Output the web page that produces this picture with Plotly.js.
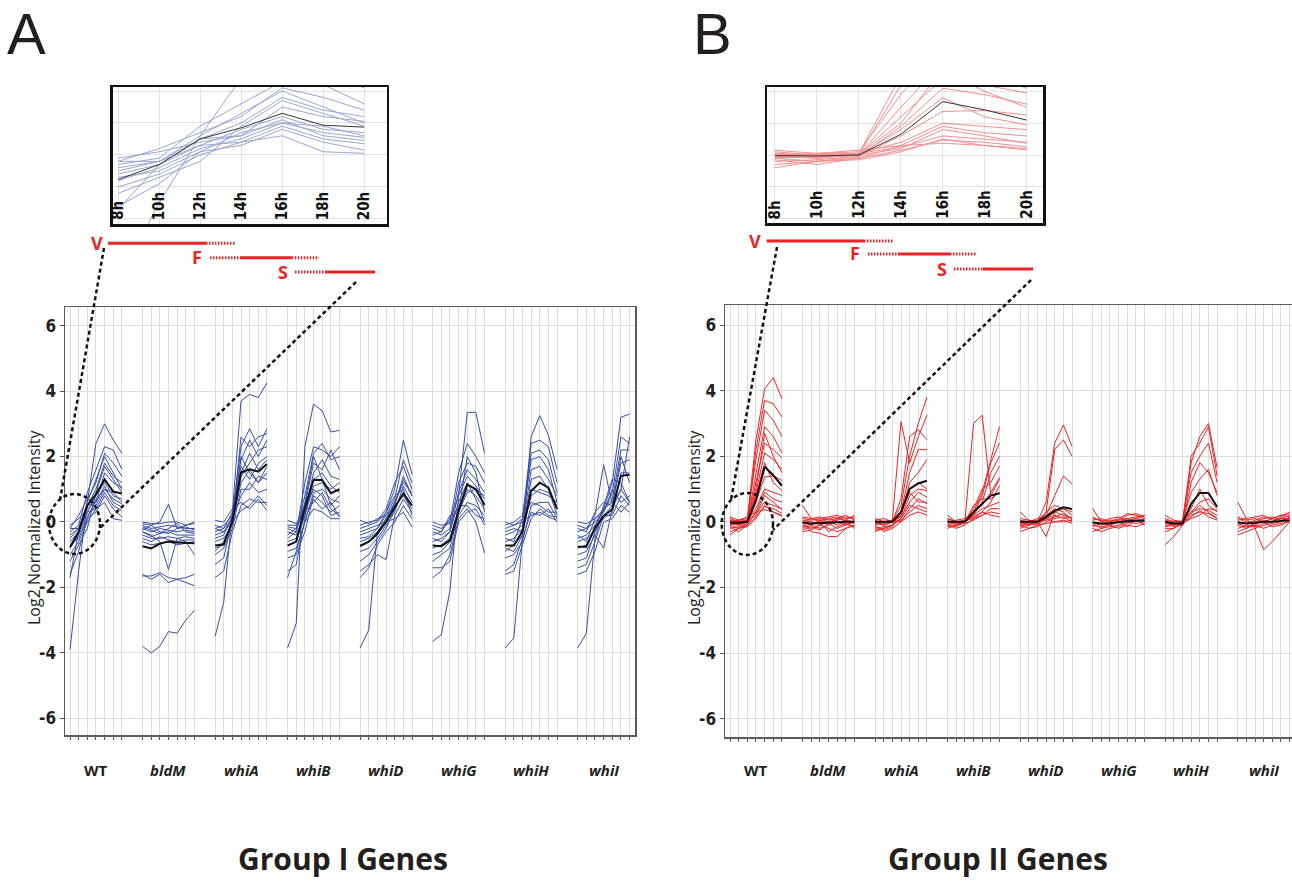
<!DOCTYPE html>
<html><head><meta charset="utf-8">
<script src="https://cdn.plot.ly/plotly-3.0.1.min.js"></script>
<style>html,body{margin:0;padding:0;background:#fff;}#chart{width:1292px;height:881px;}</style>
</head><body><div id="chart"></div>
<script>
// ---------------- data ----------------
const strains = ['WT','bldM','whiA','whiB','whiD','whiG','whiH','whiI'];
const timeLabels = ['8h','10h','12h','14h','16h','18h','20h'];
const yTicks = [-6,-4,-2,0,2,4,6];
const groupTitles = ['Group I Genes','Group II Genes'];
const panelLetters = ['A','B'];

// Group I (blue) — one row per gene, 7 time points
const g1WT = [
 [-3.9,-1.5,0.6,2.4,3.0,2.5,2.1],[-0.3,-0.1,0.9,1.6,2.3,2.2,1.6],[-0.2,0.2,0.7,1.2,2.1,1.8,1.4],
 [-0.5,-0.2,0.5,1.0,1.8,1.4,1.2],[-0.1,0.1,0.4,0.6,1.5,1.2,1.05],[-0.6,-0.3,0.3,0.8,1.2,0.8,0.7],
 [-0.8,-0.4,0.2,0.5,1.0,0.7,0.55],[-1.0,-0.6,0.0,0.4,0.9,0.5,0.35],[-1.6,-0.9,0.1,0.3,0.8,0.4,0.15],
 [-0.4,-0.2,0.3,0.4,0.6,0.1,0.05],[-1.2,-0.7,-0.2,0.9,1.7,1.3,0.9],[-0.7,-0.5,0.1,0.7,1.0,0.9,0.6],
 [-1.7,-0.3,0.5,0.6,1.1,0.6,0.45],[-0.2,-0.2,0.6,1.3,2.0,1.5,1.0]];
const g1bldM = [
 [-3.8,-4.0,-3.8,-3.35,-3.4,-3.0,-2.7],[-1.65,-1.65,-1.55,-1.7,-1.75,-1.7,-1.6],[-1.6,-1.75,-1.6,-1.85,-1.75,-1.85,-1.95],
 [-0.3,-0.4,-0.6,-1.45,-0.5,-0.6,-1.0],[-0.05,-0.1,0.0,0.54,-0.2,-0.1,-0.05],[0.0,-0.05,-0.05,0.0,0.0,-0.1,0.0],
 [-0.1,-0.2,-0.15,-0.1,-0.15,-0.2,-0.2],[-0.2,-0.3,-0.2,-0.25,-0.3,-0.25,-0.3],[-0.3,-0.45,-0.35,-0.3,-0.4,-0.4,-0.4],
 [-0.4,-0.5,-0.5,-0.45,-0.5,-0.45,-0.5],[-0.5,-0.6,-0.45,-0.55,-0.6,-0.55,-0.55],[-0.15,-0.25,-0.35,-0.2,-0.05,-0.3,-0.35],
 [-0.6,-0.7,-0.65,-0.6,-0.7,-0.65,-0.6],[-0.25,-0.1,-0.3,-0.35,-0.2,-0.15,-0.25]];
const g1whiA = [
 [-3.5,-2.45,0.3,3.7,3.9,3.8,4.25],[-0.2,-0.1,0.2,2.3,2.85,2.3,2.85],[-0.4,-0.3,0.0,2.6,2.3,2.6,2.7],
 [-0.1,-0.2,0.3,1.9,2.5,2.0,2.5],[-0.6,-0.5,-0.1,1.4,1.8,2.2,2.3],[-0.3,-0.2,0.1,1.7,1.3,1.8,2.0],
 [-0.8,-0.7,0.0,1.2,1.6,1.2,1.5],[-1.0,-0.8,-0.2,1.0,1.0,1.4,1.3],[-1.3,-1.1,0.1,0.8,1.2,0.9,1.0],
 [-1.7,-1.5,-0.3,0.5,0.7,0.6,0.6],[0.05,0.0,0.4,0.6,0.4,0.7,0.35],[-0.5,-0.4,0.2,1.5,2.1,1.6,1.9],
 [-0.9,-0.6,0.0,0.35,0.5,0.8,0.5],[-0.2,-0.3,0.1,2.0,1.5,1.2,1.7]];
const g1whiB = [
 [-3.85,-3.1,2.3,3.6,3.4,2.75,2.8],[-0.2,-0.3,1.2,2.3,2.2,2.0,2.3],[-0.4,-0.2,0.8,2.1,2.4,1.9,2.0],
 [-0.1,-0.1,0.5,1.8,1.6,2.2,1.6],[-0.6,-0.5,0.3,1.5,1.9,1.4,1.3],[-0.3,-0.4,0.2,1.1,1.2,1.0,1.2],
 [-0.9,-0.8,0.0,0.9,1.0,0.7,0.6],[-1.1,-1.0,-0.3,0.8,0.6,0.3,0.5],[-1.5,-1.3,0.1,0.7,0.4,0.6,0.15],
 [-1.7,-0.9,0.0,0.4,0.3,0.1,0.1],[-0.15,-0.2,0.4,1.0,0.8,0.2,0.3],[-0.7,-0.6,0.2,1.3,1.5,1.1,0.9],
 [-0.5,-0.3,0.6,2.0,1.3,0.5,0.8],[0.05,-0.05,0.3,0.6,0.9,0.4,0.2]];
const g1whiD = [
 [-3.85,-3.3,-0.3,0.1,0.6,1.3,0.8],[-0.2,-0.1,0.0,0.3,1.0,2.5,1.45],[-0.4,-0.3,-0.2,0.2,0.7,1.9,1.2],
 [-0.1,0.0,0.05,0.4,1.2,1.7,1.0],[-0.6,-0.5,-0.3,0.1,0.5,1.4,0.8],[-0.9,-0.8,-0.5,-0.1,0.3,1.1,0.6],
 [-1.2,-1.0,-0.6,-0.2,0.4,0.9,0.5],[-1.5,-1.3,-1.0,-1.15,0.2,0.7,0.3],[-1.7,-1.4,-0.7,-0.3,0.0,0.5,0.1],
 [-0.3,-0.2,-0.1,0.0,0.1,0.3,-0.15],[-0.7,-0.6,-0.4,0.0,0.6,1.2,0.9],[0.05,-0.05,0.1,0.2,0.5,0.8,0.4],
 [-0.5,-0.45,-0.2,0.3,0.8,1.0,0.2]];
const g1whiG = [
 [-3.65,-3.45,-2.1,0.8,3.35,3.35,2.1],[-0.1,-0.2,0.0,1.5,2.4,2.0,1.5],[-0.3,-0.4,-0.2,1.2,1.8,1.7,1.2],
 [-0.5,-0.6,-0.3,0.9,1.6,1.3,0.9],[-0.2,-0.3,0.1,0.8,1.4,1.1,0.7],[-0.8,-0.7,-0.5,0.4,1.0,0.8,0.4],
 [-1.0,-0.9,-0.6,0.2,0.6,0.5,0.2],[-1.4,-1.4,-1.2,0.0,0.3,0.4,-0.1],[-1.7,-1.5,-1.0,0.1,0.4,0.0,-0.95],
 [0.0,-0.1,-0.05,0.5,0.5,0.2,0.1],[-0.6,-0.5,-0.3,0.6,1.2,0.7,0.0],[-0.4,-0.3,0.2,0.3,0.9,1.0,0.8],
 [-1.2,-1.0,-0.8,0.3,2.0,1.5,0.3]];
const g1whiH = [
 [-3.85,-3.55,-0.5,2.6,3.25,2.65,1.6],[-0.2,-0.1,0.1,2.4,2.5,2.3,1.2],[-0.4,-0.3,-0.1,2.1,2.2,1.9,0.9],
 [-0.1,0.0,0.2,1.9,2.0,1.6,0.6],[-0.6,-0.5,-0.2,1.6,1.7,1.3,0.8],[-0.8,-0.9,-0.4,1.3,1.4,1.0,0.2],
 [-1.1,-1.0,-0.6,0.5,0.6,0.6,0.1],[-1.5,-1.3,-0.5,0.3,0.2,0.4,0.0],[-1.6,-1.5,-0.7,0.1,0.4,0.2,0.15],
 [0.0,-0.1,0.0,0.2,0.3,0.15,0.05],[-0.3,-0.2,-0.3,0.8,1.0,0.9,0.5],[-0.5,-0.6,0.1,0.6,0.5,0.3,0.3],
 [-0.9,-0.7,-0.4,1.0,0.9,0.8,0.6]];
const g1whiI = [
 [-3.85,-3.4,-0.5,0.4,1.2,3.2,3.3],[-0.1,-0.2,0.2,1.75,0.55,1.0,2.6],[-0.3,-0.2,0.0,0.3,0.9,2.6,2.4],
 [-0.5,-0.4,-0.1,0.4,0.7,2.2,2.2],[-0.2,-0.3,0.3,0.6,0.5,1.8,1.9],[-0.8,-0.7,-0.2,0.1,0.3,1.5,1.5],
 [-1.0,-0.9,-0.4,-0.8,0.4,1.0,0.6],[-1.4,-1.3,-0.6,0.2,0.2,0.8,0.5],[-1.6,-1.5,-0.9,0.0,0.1,0.5,0.3],
 [0.0,-0.05,0.1,0.4,0.6,0.3,0.6],[-0.6,-0.5,-0.3,0.5,1.3,1.2,0.6],[-0.4,-0.6,0.1,0.3,1.0,0.6,0.8],
 [-1.2,-1.1,-0.3,0.2,0.5,2.0,1.2]];
const g1Mean = [
 [-0.77,-0.3,0.5,0.85,1.3,0.93,0.87],[-0.74,-0.81,-0.66,-0.6,-0.63,-0.65,-0.65],
 [-0.72,-0.68,0.03,1.51,1.61,1.54,1.77],[-0.72,-0.6,0.44,1.29,1.28,0.88,1.0],
 [-0.74,-0.6,-0.35,0.0,0.45,0.87,0.5],[-0.72,-0.74,-0.56,0.34,1.15,1.0,0.52],
 [-0.72,-0.72,-0.28,0.95,1.2,1.05,0.39],[-0.76,-0.76,-0.17,0.18,0.39,1.41,1.44]];

// Group II (red)
const g2WT = [
 [0.05,0.0,0.05,2.5,4.05,4.4,3.75],[-0.1,-0.05,0.0,2.2,3.7,3.6,3.2],[0.0,0.05,0.1,1.9,3.4,3.1,2.6],
 [-0.05,-0.1,0.0,1.5,2.9,2.6,2.1],[0.1,0.0,0.0,1.2,2.4,2.2,1.95],[-0.2,-0.15,-0.05,0.9,2.1,1.9,1.6],
 [-0.1,-0.2,-0.05,0.6,1.37,1.4,1.26],[0.0,-0.1,0.05,0.4,1.0,0.9,0.8],[-0.3,-0.2,-0.1,0.3,0.9,0.7,0.6],
 [0.05,-0.05,0.0,0.2,0.8,0.6,0.37],[-0.15,-0.3,-0.1,0.15,0.47,0.4,0.26],[0.15,0.05,0.15,0.3,0.37,0.3,0.16],
 [-0.4,-0.2,-0.15,0.1,0.5,0.3,0.2],[-0.05,0.0,0.0,0.8,1.8,1.2,0.95],[0.0,-0.1,0.0,1.0,2.7,2.0,1.5],
 [-0.1,0.05,0.05,0.25,0.6,0.5,0.4]];
const g2bldM = [
 [0.5,0.1,0.0,-0.05,0.1,0.05,0.0],[0.1,0.05,0.1,0.15,0.2,0.1,0.15],[-0.1,-0.2,-0.1,0.0,0.05,0.15,0.1],
 [0.0,-0.3,-0.35,-0.45,-0.45,-0.2,-0.1],[-0.2,-0.1,-0.2,-0.1,0.0,-0.05,-0.15],[0.05,0.0,-0.05,0.1,0.0,-0.1,0.05],
 [-0.3,-0.25,-0.1,-0.2,-0.3,-0.2,-0.1],[0.15,0.1,0.05,0.0,-0.1,0.05,0.2],[-0.05,0.1,0.15,0.05,0.1,0.2,0.05],
 [-0.15,-0.05,0.0,-0.3,-0.15,-0.05,-0.2],[0.0,-0.1,0.05,0.1,0.15,0.0,-0.05],[-0.25,-0.15,-0.25,-0.05,-0.2,-0.1,0.0]];
const g2whiA = [
 [0.0,-0.05,0.0,0.5,2.0,3.0,3.8],[-0.1,0.0,0.05,3.05,1.8,2.6,3.25],[0.05,-0.1,0.0,0.7,2.6,2.8,2.5],
 [-0.2,-0.15,-0.1,0.3,1.5,2.2,2.2],[0.0,0.0,0.0,0.2,1.2,1.5,1.9],[-0.3,-0.2,-0.1,0.1,0.8,1.0,0.95],
 [0.1,0.0,0.05,0.15,0.6,0.9,0.75],[-0.1,-0.3,-0.2,0.0,0.4,0.7,0.55],[0.0,-0.1,0.0,0.05,0.3,0.5,0.4],
 [-0.25,-0.2,-0.1,0.1,0.5,0.4,0.3],[0.05,0.1,0.0,0.3,0.9,0.6,0.6],[-0.05,-0.1,0.0,0.0,0.2,0.3,0.2],
 [-0.15,-0.25,-0.15,0.2,1.0,1.2,1.0]];
const g2whiB = [
 [0.1,0.0,0.0,3.0,3.25,0.8,1.3],[0.0,-0.05,0.0,0.3,0.9,1.9,2.9],[-0.1,0.0,0.0,0.2,0.8,1.8,2.4],
 [0.05,-0.1,0.05,0.2,0.6,1.5,2.0],[-0.2,-0.1,0.0,0.4,1.0,1.2,1.7],[0.0,0.05,0.1,0.3,0.5,0.9,1.35],
 [-0.1,-0.2,-0.1,0.1,0.3,0.6,1.1],[0.1,0.0,0.0,0.2,0.4,0.5,0.6],[-0.15,-0.1,-0.05,0.05,0.2,0.4,0.4],
 [0.0,0.0,0.05,0.1,0.2,0.3,0.25],[-0.05,-0.15,0.0,0.15,0.3,0.2,0.15],[0.2,0.0,0.0,0.5,0.7,0.7,0.9]];
const g2whiD = [
 [0.0,-0.05,0.0,0.6,2.4,2.95,2.3],[0.3,0.05,0.0,0.3,2.2,2.5,2.0],[-0.1,0.0,0.05,0.2,0.8,1.4,1.15],
 [0.0,-0.1,0.0,-0.45,0.3,0.4,0.2],[-0.2,-0.1,-0.05,0.1,0.3,0.2,0.1],[0.05,0.0,0.1,0.2,0.4,0.3,0.05],
 [-0.1,-0.2,-0.15,0.0,0.1,0.15,0.0],[0.1,0.05,0.0,0.1,0.2,0.1,0.15],[-0.3,-0.2,-0.1,-0.05,0.0,0.05,-0.05],
 [0.0,0.0,-0.05,0.3,0.5,0.4,0.3],[-0.05,-0.1,0.0,0.05,0.15,0.25,0.1],[-0.15,-0.05,-0.1,0.1,0.0,0.0,0.05]];
const g2whiG = [
 [0.4,0.0,-0.05,0.0,0.05,0.1,0.05],[0.1,0.05,0.0,0.1,0.25,0.2,0.1],[-0.1,-0.15,-0.1,0.0,0.1,0.15,0.2],
 [-0.3,-0.2,-0.15,-0.1,0.0,-0.05,0.0],[0.0,-0.1,0.05,0.05,0.2,0.25,0.15],[-0.2,-0.3,-0.2,-0.15,-0.05,0.05,-0.1],
 [0.05,0.1,0.0,0.05,0.1,0.0,0.1],[-0.15,-0.05,-0.1,-0.2,-0.1,-0.15,-0.05],[0.15,0.0,0.1,0.15,0.05,0.1,0.2],
 [-0.05,-0.2,-0.05,0.0,-0.15,0.05,0.05]];
const g2whiH = [
 [0.0,-0.05,0.0,1.8,2.6,3.0,1.65],[-0.1,-0.1,-0.05,2.0,2.4,2.9,1.4],[0.05,0.0,0.0,1.5,2.0,2.4,1.2],
 [-0.7,-0.45,-0.1,1.2,1.8,1.5,0.9],[-0.2,-0.2,0.0,0.9,1.3,1.6,0.8],[0.1,0.0,0.0,0.4,1.0,0.5,0.3],
 [-0.05,-0.1,0.0,0.3,0.4,0.35,0.2],[0.0,-0.15,-0.1,0.2,0.3,0.25,0.1],[-0.3,-0.2,-0.05,0.1,0.2,0.4,0.35],
 [0.2,0.05,0.0,0.25,0.5,0.3,0.1],[-0.15,-0.1,0.05,0.3,0.6,0.7,0.4],[-0.05,-0.05,0.0,0.15,0.35,0.15,0.05]];
const g2whiI = [
 [0.6,0.1,-0.2,-0.85,-0.6,-0.3,0.0],[0.0,-0.05,0.05,0.15,0.1,0.2,0.25],[-0.2,-0.1,-0.15,-0.05,0.0,0.1,0.1],
 [-0.4,-0.3,-0.2,-0.1,-0.05,0.0,0.15],[0.05,0.1,0.15,0.2,0.05,0.1,0.2],[-0.1,-0.2,-0.05,0.0,-0.15,-0.1,0.05],
 [0.1,0.0,0.0,0.1,0.15,0.05,0.1],[-0.05,-0.15,-0.1,0.05,0.0,0.15,0.3],[-0.3,-0.2,-0.1,-0.2,-0.1,-0.05,0.0],
 [0.15,0.05,0.1,0.0,0.1,0.2,0.15]];
const g2Mean = [
 [-0.02,-0.03,0.0,0.65,1.68,1.42,1.1],[-0.02,-0.05,-0.04,-0.02,0.0,0.0,0.0],
 [0.0,0.0,0.0,0.3,1.0,1.17,1.25],[0.0,0.0,0.0,0.3,0.55,0.8,0.87],
 [0.0,0.0,0.0,0.15,0.34,0.44,0.39],[-0.02,-0.05,-0.04,0.0,0.02,0.03,0.03],
 [0.0,-0.05,-0.05,0.55,0.88,0.88,0.46],[-0.02,-0.05,-0.03,0.0,0.0,0.02,0.05]];

const groupI = [g1WT,g1bldM,g1whiA,g1whiB,g1whiD,g1whiG,g1whiH,g1whiI];
const groupII = [g2WT,g2bldM,g2whiA,g2whiB,g2whiD,g2whiG,g2whiH,g2whiI];

// ---------------- build ----------------
const W = 1292, H = 881;
const px = v => v / W, py = v => 1 - v / H;
const GAP = 8.385; // spacing between strain blocks in time-step units
const BLUE = '#3a4ea6', RED = '#ec2326';

function flatten(groups, withOffset) {
  const x = [], y = [];
  groups.forEach((rows, g) => rows.forEach(r => {
    r.forEach((v, t) => { x.push((withOffset ? g * GAP : 0) + t); y.push(v); });
    x.push(null); y.push(null);
  }));
  return {x, y};
}
function meanFlat(means) {
  const x = [], y = [];
  means.forEach((r, g) => { r.forEach((v, t) => { x.push(g * GAP + t); y.push(v); }); x.push(null); y.push(null); });
  return {x, y};
}

const traces = [];
function addPanel(groups, means, color, xa, ya, xi, yi) {
  const f = flatten(groups, true);
  traces.push({type:'scatter', mode:'lines', x:f.x, y:f.y, xaxis:xa, yaxis:ya,
    line:{color:color, width:1}, hoverinfo:'skip', showlegend:false});
  const m = meanFlat(means);
  traces.push({type:'scatter', mode:'lines', x:m.x, y:m.y, xaxis:xa, yaxis:ya,
    line:{color:'#111', width:2}, hoverinfo:'skip', showlegend:false});
  // inset : WT block
  const fi = flatten([groups[0]], false);
  traces.push({type:'scatter', mode:'lines', x:fi.x, y:fi.y, xaxis:xi, yaxis:yi,
    line:{color:color, width:1}, opacity:0.5, hoverinfo:'skip', showlegend:false});
  traces.push({type:'scatter', mode:'lines', x:[0,1,2,3,4,5,6], y:means[0], xaxis:xi, yaxis:yi,
    line:{color:'#333', width:1}, hoverinfo:'skip', showlegend:false});
}
addPanel(groupI, g1Mean, BLUE, 'x', 'y', 'x3', 'y3');
addPanel(groupII, g2Mean, RED, 'x2', 'y2', 'x4', 'y4');

const tickX = [];
strains.forEach((s, g) => { for (let t = 0; t < 7; t++) tickX.push(g * GAP + t); });

const NUMFAM = 'Liberation Sans Narrow, DejaVu Sans Condensed, sans-serif';
const NUMFONT = {family:NUMFAM, size:17, color:'#231f20', weight:'bold'};
const TXT = 'Open Sans, Noto Sans, sans-serif';

function mainX(domain, range) {
  return {domain, range, tickvals:tickX, showticklabels:false, ticks:'outside', ticklen:3, tickcolor:'#555', tickwidth:1,
    showgrid:true, gridcolor:'#dcdcdc', gridwidth:1, zeroline:false, showline:true, mirror:true,
    linecolor:'#5a5a5a', linewidth:1.5, fixedrange:true};
}
function mainY(domain, range, anchor) {
  return {domain, range, anchor, tickvals:yTicks, ticktext:yTicks.map(String), ticks:'outside', ticklen:4, tickcolor:'#555',
    tickfont:NUMFONT, showgrid:true, gridcolor:'#dcdcdc', gridwidth:1, zeroline:false, showline:true, mirror:true,
    linecolor:'#5a5a5a', linewidth:1.5, fixedrange:true};
}
function insetX(domain, range, anchor) {
  return {domain, range, anchor, tickvals:[0,1,2,3,4,5,6], showticklabels:false, ticks:'',
    showgrid:true, gridcolor:'#e4e4e4', zeroline:false, showline:true, mirror:true, linecolor:'#111', linewidth:2.5, fixedrange:true};
}
function insetY(domain, range, anchor) {
  return {domain, range, anchor, tickvals:[-2,-1,0,1,2], showticklabels:false, ticks:'',
    showgrid:true, gridcolor:'#e4e4e4', zeroline:false, showline:true, mirror:true, linecolor:'#111', linewidth:2.5, fixedrange:true};
}

const layout = {
  width:W, height:H, margin:{l:0,r:0,t:0,b:0}, paper_bgcolor:'#fff', plot_bgcolor:'#fff', showlegend:false,
  xaxis: Object.assign(mainX([px(65), px(635)], [-0.578, 65.32]), {anchor:'y'}),
  yaxis: mainY([py(735), py(307)], [-6.51, 6.57], 'x'),
  xaxis2: Object.assign(mainX([px(725), 1], [-0.578, 64.97]), {anchor:'y2'}),
  yaxis2: mainY([py(737), py(305)], [-6.56, 6.61], 'x2'),
  xaxis3: insetX([px(112.7), px(386.7)], [-0.137, 6.55], 'y3'),
  yaxis3: insetY([py(224), py(87)], [-2.16, 2.125], 'x3'),
  xaxis4: insetX([px(767), px(1043)], [-0.19, 6.39], 'y4'),
  yaxis4: insetY([py(223), py(87)], [-2.14, 2.14], 'x4'),
  annotations: [], shapes: []
};

const A = layout.annotations, S = layout.shapes;
// strain labels
strains.forEach((s, g) => {
  const txt = g === 0 ? '<b>' + s + '</b>' : '<b><i>' + s + '</i></b>';
  ['x','x2'].forEach(xr => A.push({xref:xr, yref:'paper', x:g*GAP+3, y:py(770), text:txt, showarrow:false,
    xanchor:'center', yanchor:'middle', font:{family:TXT, size:15, color:'#231f20'}}));
});
// y titles
[34, 694].forEach(xp => A.push({xref:'paper', yref:'paper', x:px(xp), y:py(527), text:'Log2 Normalized Intensity',
  textangle:-90, showarrow:false, xanchor:'center', yanchor:'middle', font:{family:TXT, size:16, color:'#231f20'}}));
// inset time labels
timeLabels.forEach((lab, t) => {
  A.push({xref:'x3', yref:'paper', x:t, y:py(222), text:lab, textangle:-90, showarrow:false, xanchor:'center', yanchor:'bottom',
    font:{family:NUMFAM, size:15, color:'#111', weight:'bold'}});
  A.push({xref:'x4', yref:'paper', x:t, y:py(221), text:lab, textangle:-90, showarrow:false, xanchor:'center', yanchor:'bottom',
    font:{family:NUMFAM, size:15, color:'#111', weight:'bold'}});
});
// panel letters & titles
A.push({xref:'paper', yref:'paper', x:px(27), y:py(33), text:panelLetters[0], showarrow:false, xanchor:'center', yanchor:'middle',
  font:{family:'Liberation Sans, Arial, sans-serif', size:58, color:'#231f20'}});
A.push({xref:'paper', yref:'paper', x:px(712), y:py(33), text:panelLetters[1], showarrow:false, xanchor:'center', yanchor:'middle',
  font:{family:'Liberation Sans, Arial, sans-serif', size:58, color:'#231f20'}});
A.push({xref:'paper', yref:'paper', x:px(343), y:py(858), text:'<b>' + groupTitles[0] + '</b>', showarrow:false, xanchor:'center', yanchor:'middle',
  font:{family:TXT, size:30, color:'#231f20'}});
A.push({xref:'paper', yref:'paper', x:px(998), y:py(858), text:'<b>' + groupTitles[1] + '</b>', showarrow:false, xanchor:'center', yanchor:'middle',
  font:{family:TXT, size:30, color:'#231f20'}});

// V / F / S stage bars
function seg(x0, x1, y, dotted) {
  S.push({type:'line', xref:'paper', yref:'paper', x0:px(x0), x1:px(x1), y0:py(y), y1:py(y),
    line:{color:RED, width:3, dash: dotted ? '1.5px,1.5px' : 'solid'}});
}
function letter(t, x, y) {
  A.push({xref:'paper', yref:'paper', x:px(x), y:py(y), text:'<b>' + t + '</b>', showarrow:false, xanchor:'center', yanchor:'middle',
    font:{family:TXT, size:18, color:RED}});
}
// panel A
letter('V', 97, 243); seg(108, 206, 243.3, false); seg(206, 236, 243.3, true);
letter('F', 197, 257); seg(210, 240, 257.7, true); seg(240, 291.7, 257.7, false); seg(291.7, 319, 257.7, true);
letter('S', 283, 272); seg(295, 325, 272, true); seg(325, 375, 272, false);
// panel B
letter('V', 755, 241); seg(766.7, 864, 241, false); seg(864, 894, 241, true);
letter('F', 855, 253.5); seg(868, 899, 254, true); seg(899, 950, 254, false); seg(950, 977, 254, true);
letter('S', 942, 269.5); seg(954, 983, 269, true); seg(983, 1033, 269, false);

// dashed zoom guides
function dline(x0, y0, x1, y1) {
  S.push({type:'line', xref:'paper', yref:'paper', x0:px(x0), y0:py(y0), x1:px(x1), y1:py(y1),
    line:{color:'#111', width:2.5, dash:'4px,3px'}});
}
dline(104, 248, 60, 500); dline(356, 282, 100, 528);
dline(777, 247, 731, 500); dline(1031, 280, 773, 530);
S.push({type:'circle', xref:'paper', yref:'paper', x0:px(49), x1:px(100), y0:py(494), y1:py(554),
  line:{color:'#111', width:2.5, dash:'4px,3px'}});
S.push({type:'circle', xref:'paper', yref:'paper', x0:px(721.7), x1:px(773), y0:py(493), y1:py(555),
  line:{color:'#111', width:2.5, dash:'4px,3px'}});

Plotly.newPlot('chart', traces, layout, {staticPlot:true, displayModeBar:false});
</script></body></html>
